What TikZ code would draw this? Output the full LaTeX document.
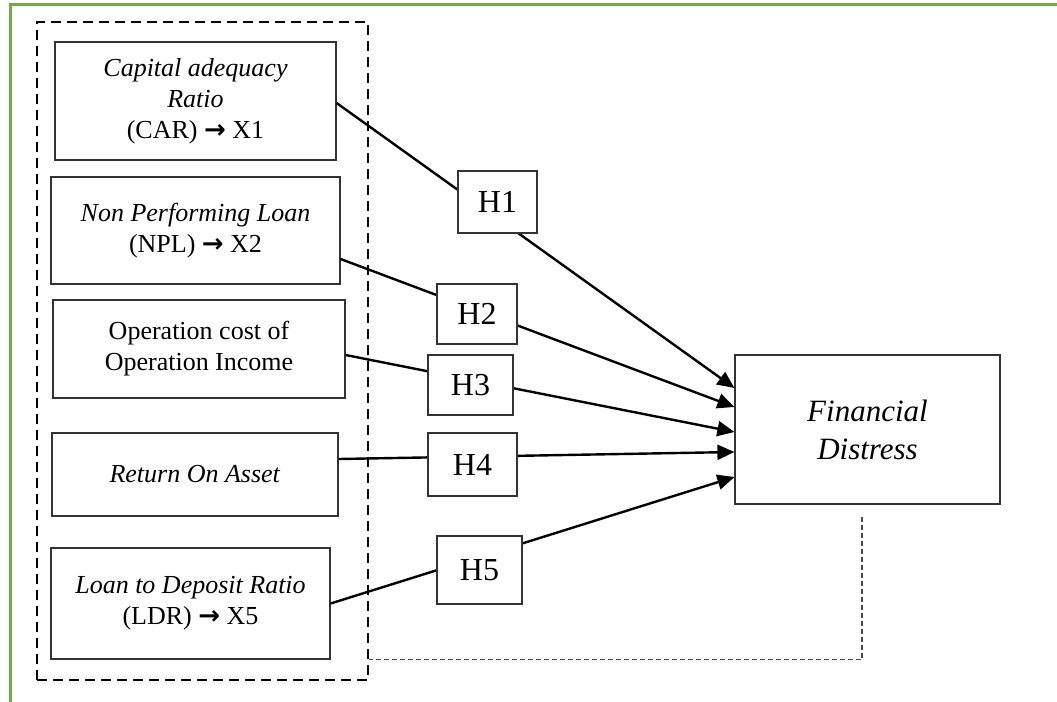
\documentclass[tikz,border=0pt]{standalone}
\usepackage{fontspec}
\setmainfont{Liberation Serif}
\newfontfamily\symfont{DejaVu Sans}
\newcommand{\toarrow}{{\symfont\bfseries\fontsize{13}{15.5}\selectfont →}}
\usetikzlibrary{arrows.meta}
\definecolor{framegreen}{HTML}{70AD47}

\begin{document}
\begin{tikzpicture}[
  x=0.5pt, y=-0.5pt,
  varbox/.style={rectangle, draw=black!80, line width=0.6pt, inner sep=0pt, align=center, font=\fontsize{13}{15.5}\selectfont},
  hypbox/.style={rectangle, draw=black!80, line width=0.6pt, fill=white, inner sep=0pt, minimum height=30pt, font=\fontsize{16}{19}\selectfont},
  link/.style={-{Triangle[length=8.5pt, width=7.5pt]}, line width=1.2pt},
  groupbox/.style={rectangle, draw, line width=1.1pt, dash pattern=on 5pt off 3pt, inner sep=0pt}
]
\useasboundingbox (0,0) rectangle (1057,702);

% Outer frame
\draw[framegreen, line width=1.5pt] (10,702) -- (10,4.7) -- (1057,4.7);

% Independent variables
\node[groupbox, minimum width=165.5pt, minimum height=329pt] (group) at (202.5,351) {};
\node[varbox, minimum width=140.5pt, minimum height=59pt] (car) at (195.5,101) {\textit{Capital adequacy}\\\textit{Ratio}\\(CAR) \toarrow{} X1};
\node[varbox, minimum width=144.5pt, minimum height=53.5pt] (npl) at (195.5,230.5) {\textit{Non Performing Loan}\\(NPL) \toarrow{} X2};
\node[varbox, minimum width=146pt, minimum height=49pt] (opc) at (199,349) {Operation cost of\\Operation Income};
\node[varbox, minimum width=143pt, minimum height=41.5pt] (roa) at (195,474.5) {\textit{Return On Asset}};
\node[varbox, minimum width=139.5pt, minimum height=55.5pt] (ldr) at (190.5,603.5) {\textit{Loan to Deposit Ratio}\\(LDR) \toarrow{} X5};

% Dependent variable
\node[varbox, minimum width=132.5pt, minimum height=74.5pt, font=\fontsize{15.5}{19}\selectfont\itshape] (fd) at (867.5,429.5) {Financial\\Distress};

% Paths
\draw[link] ([yshift=-1pt]car.east) -- ([yshift=20.75pt]fd.west);
\draw[link] ([yshift=-14.25pt]npl.east) -- ([yshift=11.25pt]fd.west);
\draw[link] ([yshift=-3pt]opc.east) -- ([yshift=-1.25pt]fd.west);
\draw[link] ([yshift=7.75pt]roa.east) -- ([yshift=-11.25pt]fd.west);
\draw[link] (ldr.east) -- ([yshift=-23.75pt]fd.west);

% Hypotheses
\node[hypbox, minimum width=39.5pt, minimum height=31pt] (h1) at (497.5,202) {H1};
\node[hypbox, minimum width=40pt] (h2) at (477,314) {H2};
\node[hypbox, minimum width=42.5pt] (h3) at (470.5,385) {H3};
\node[hypbox, minimum width=44.5pt, minimum height=31.5pt] (h4) at (472.5,464.5) {H4};
\node[hypbox, minimum width=42.5pt, minimum height=34pt] (h5) at (479.5,570) {H5};

% Feedback line
\draw[black!70, line width=0.6pt, dash pattern=on 2.5pt off 1.5pt] ([xshift=-2.75pt,yshift=-6pt]fd.south) |- (group.east |- ldr.south);

\end{tikzpicture}
\end{document}
